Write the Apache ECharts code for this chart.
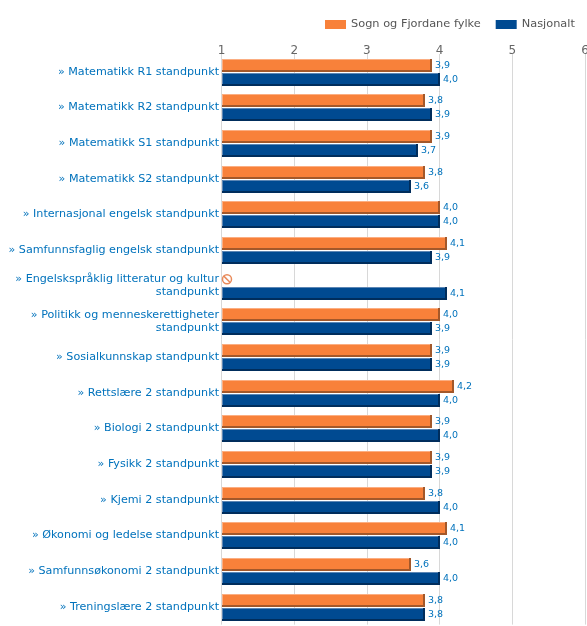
<!DOCTYPE html>
<html>
<head>
<meta charset="utf-8">
<style>html,body{margin:0;padding:0;background:#fff}#c{width:587px;height:626px}</style>
<script src="https://cdn.jsdelivr.net/npm/echarts@6/dist/echarts.min.js"></script>
</head>
<body>
<div id="c"></div>
<script>
const categories = [
  "Matematikk R1 standpunkt",
  "Matematikk R2 standpunkt",
  "Matematikk S1 standpunkt",
  "Matematikk S2 standpunkt",
  "Internasjonal engelsk standpunkt",
  "Samfunnsfaglig engelsk standpunkt",
  "Engelskspråklig litteratur og kultur\nstandpunkt",
  "Politikk og menneskerettigheter\nstandpunkt",
  "Sosialkunnskap standpunkt",
  "Rettslære 2 standpunkt",
  "Biologi 2 standpunkt",
  "Fysikk 2 standpunkt",
  "Kjemi 2 standpunkt",
  "Økonomi og ledelse standpunkt",
  "Samfunnsøkonomi 2 standpunkt",
  "Treningslære 2 standpunkt"
];
const sognValues = [3.9, 3.8, 3.9, 3.8, 4.0, 4.1, null, 4.0, 3.9, 4.2, 3.9, 3.9, 3.8, 4.1, 3.6, 3.8];
const nasjonaltValues = [4.0, 3.9, 3.7, 3.6, 4.0, 3.9, 4.1, 3.9, 3.9, 4.0, 4.0, 3.9, 4.0, 4.0, 4.0, 3.8];
const xTicks = [1, 2, 3, 4, 5, 6];

const FONT = '"DejaVu Sans", sans-serif';
const LINK = '#0072bc';

function bevelBar(palette, topOffset) {
  return function (params, api) {
    const cat = api.value(1);
    const val = api.value(0);
    const origin = api.coord([1, cat]);
    if (val == null || isNaN(val)) {
      const cx = origin[0] + 5.5, cy = origin[1] - 6.5;
      const d = 4.5 * Math.SQRT1_2;
      return { type: 'group', children: [
        { type: 'circle', shape: { cx, cy, r: 4.5 }, style: { fill: 'none', stroke: '#e98a5a', lineWidth: 1.5 } },
        { type: 'line', shape: { x1: cx - d, y1: cy - d, x2: cx + d, y2: cy + d }, style: { stroke: '#e98a5a', lineWidth: 1.5 } }
      ]};
    }
    const end = api.coord([val, cat]);
    const x = Math.round(origin[0]);
    const w = Math.round(end[0]) - x;
    const y = Math.round(origin[1]) + topOffset;
    const h = 13;
    return { type: 'group', children: [
      { type: 'rect', shape: { x, y, width: w, height: h }, style: { fill: palette.dark } },
      { type: 'rect', shape: { x, y, width: w - 2, height: h - 2 }, style: { fill: palette.light } },
      { type: 'rect', shape: { x: x + 1, y: y + 1, width: w - 3, height: h - 3 }, style: { fill: palette.main } },
      { type: 'text', x: x + w + 3, y: y + h / 2 + 0.5, style: {
          text: val.toFixed(1).replace('.', ','), fill: LINK, font: '9.5px ' + FONT,
          verticalAlign: 'middle', align: 'left' } }
    ]};
  };
}

const chart = echarts.init(document.getElementById('c'), null, { renderer: 'canvas' });
chart.setOption({
  animation: false,
  backgroundColor: '#fff',
  legend: {
    left: 325, top: 19, padding: 0, itemWidth: 21, itemHeight: 9, itemGap: 15, icon: 'rect',
    textStyle: { color: '#555', fontFamily: FONT, fontSize: 11.35, padding: [0, 0, 0, 0] },
    data: ['Sogn og Fjordane fylke', 'Nasjonalt']
  },
  grid: { left: 221.5, right: 2, top: 54, bottom: 1.4, outerBoundsMode: 'none' },
  xAxis: {
    type: 'value', position: 'top', min: xTicks[0], max: xTicks[xTicks.length - 1], interval: 1,
    axisLine: { show: false }, axisTick: { show: false },
    axisLabel: { color: '#666', fontFamily: FONT, fontSize: 12, margin: -3, hideOverlap: false },
    splitLine: { show: true, lineStyle: { color: '#d8d8d8', width: 1 } }
  },
  yAxis: {
    type: 'category', inverse: true, data: categories,
    axisLine: { show: false }, axisTick: { show: false },
    axisLabel: {
      interval: 0, color: LINK, fontFamily: FONT, fontSize: 11.15, margin: 2.5, align: 'right', lineHeight: 13,
      formatter: v => '» ' + v
    },
    splitLine: { show: false }
  },
  series: [
    {
      name: 'Sogn og Fjordane fylke', type: 'custom', encode: { x: 0, y: 1 }, clip: false,
      itemStyle: { color: '#f8813a' },
      renderItem: bevelBar({ main: '#f8813a', light: '#fbae82', dark: '#a3582a' }, -13),
      data: sognValues.map((v, i) => [v === null ? NaN : v, i])
    },
    {
      name: 'Nasjonalt', type: 'custom', encode: { x: 0, y: 1 }, clip: false,
      itemStyle: { color: '#004a91' },
      renderItem: bevelBar({ main: '#004a91', light: '#5c86b4', dark: '#002d5c' }, 1),
      data: nasjonaltValues.map((v, i) => [v, i])
    }
  ]
});
</script>
</body>
</html>
